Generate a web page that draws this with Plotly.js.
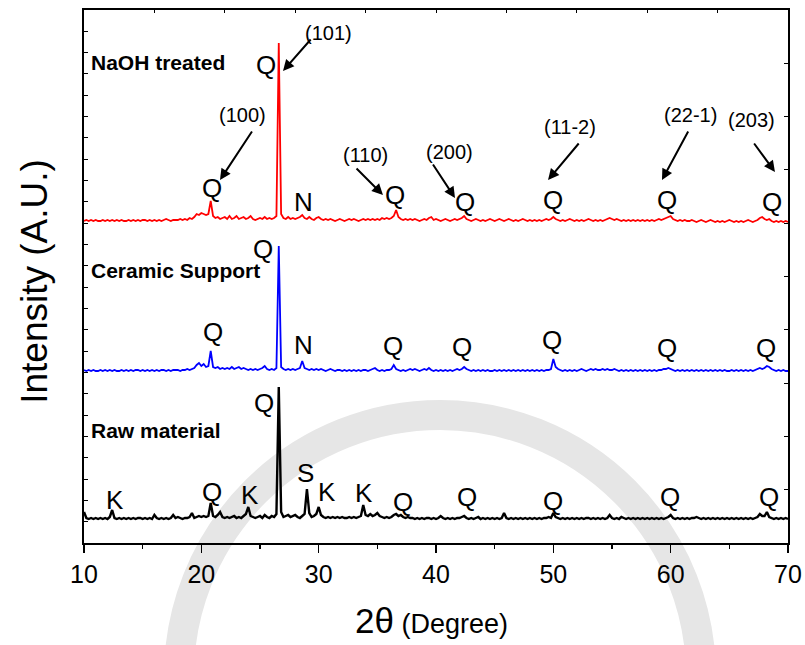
<!DOCTYPE html>
<html>
<head>
<meta charset="utf-8">
<script src="https://cdn.plot.ly/plotly-3.0.1.min.js"></script>
<style>
html,body{margin:0;padding:0;background:#fff;}
#chart{width:805px;height:645px;}
</style>
</head>
<body>
<div id="chart"></div>
<script>
// 2-theta scan: start and step (degrees)
var twoThetaStart = 10;
var twoThetaStep = 0.2;

// Intensities (a.u., above each pattern's own baseline), one value per 0.2 deg from 10 to 70
var rawMaterial = [
  8,2,1,2,1,2,1,2,1,2,
  1,3,10,2,1,2,1,2,1,2,
  1,2,1,2,2,1,2,1,2,1,
  5,2,1,2,1,2,1,2,5,2,
  3,2,1,2,2,3,7,2,3,4,
  3,4,3,4,17,4,3,5,8,3,
  2,3,2,3,4,2,3,2,4,6,
  13,4,3,2,3,4,2,5,3,2,
  4,3,6,133,8,3,4,5,3,4,
  5,3,2,4,6,31,7,3,4,6,
  13,5,3,2,3,2,3,2,3,2,
  3,2,2,3,2,3,2,3,4,15,
  5,4,6,4,5,7,4,3,2,3,
  2,3,5,6,4,5,3,2,3,2,
  2,1,2,1,2,1,2,2,1,2,
  1,2,4,2,1,2,1,2,1,2,
  2,3,4,2,1,2,1,2,3,1,
  2,1,2,1,2,1,2,1,2,7,
  2,1,2,1,2,1,2,1,2,1,
  2,1,2,1,2,1,2,2,3,2,
  7,3,2,1,2,1,2,1,2,1,
  2,1,2,1,2,2,1,2,1,2,
  1,2,1,2,5,2,1,2,1,3,
  2,1,2,1,2,1,2,1,2,1,
  2,1,2,1,2,1,2,1,2,3,
  5,2,1,2,1,2,1,2,1,2,
  2,3,2,1,2,1,2,1,2,1,
  2,1,2,1,2,1,2,1,2,1,
  2,1,2,1,2,1,2,3,6,4,
  4,8,3,2,1,2,1,2,1,2,
  1
];
var ceramicSupport = [
  2,1,2,1,2,1,1,2,1,2,
  1,2,1,2,1,1,2,1,2,1,
  2,1,2,2,1,2,1,2,1,2,
  1,2,1,2,2,1,2,1,2,2,
  2,1,2,2,3,2,3,4,7,9,
  6,8,5,6,21,5,4,5,3,4,
  3,4,3,5,3,4,5,3,4,3,
  2,3,2,3,2,3,4,6,3,2,
  3,2,4,126,5,3,2,3,2,3,
  2,3,4,11,4,3,2,3,2,3,
  2,3,2,1,2,3,2,1,2,2,
  1,2,1,2,1,2,1,2,1,2,
  2,1,2,3,4,2,1,2,1,2,
  2,3,7,3,2,1,2,1,2,3,
  2,3,2,1,2,3,2,4,2,1,
  2,1,2,1,2,1,2,1,2,3,
  2,3,5,3,2,1,2,1,2,1,
  2,1,2,1,1,2,1,2,1,2,
  1,2,1,2,1,2,1,2,1,2,
  1,2,1,2,1,2,1,2,2,3,
  13,5,3,2,1,2,1,2,1,2,
  1,2,3,2,1,2,3,2,3,2,
  2,3,2,3,2,2,3,2,1,2,
  1,2,1,2,1,2,1,2,1,2,
  1,2,1,2,1,2,2,3,3,4,
  3,2,1,2,1,2,1,2,1,2,
  1,2,1,2,1,2,1,2,1,2,
  1,2,1,2,1,1,2,1,2,1,
  2,1,2,1,2,1,2,3,4,3,
  4,6,5,3,2,1,2,1,2,1,
  1
];
var naohTreated = [
  1,2,1,2,1,2,1,1,2,1,
  2,1,2,1,2,1,2,1,1,2,
  1,2,1,2,1,2,2,1,2,1,
  2,1,2,1,2,3,2,1,2,2,
  2,3,2,3,2,4,3,5,8,7,
  9,8,7,8,21,6,4,5,3,4,
  5,3,6,3,4,6,3,4,5,3,
  4,6,3,2,3,4,3,5,3,4,
  3,4,6,179,8,4,3,5,3,4,
  3,4,5,7,4,3,5,3,2,4,
  5,3,2,3,2,3,2,1,2,3,
  2,1,2,3,2,3,2,1,2,3,
  2,3,2,3,2,3,2,4,3,4,
  3,4,6,12,5,3,2,3,2,3,
  2,3,2,1,2,3,2,4,5,2,
  3,2,1,2,3,2,1,2,3,2,
  3,4,6,3,2,1,2,3,2,1,
  2,1,2,3,2,1,2,3,2,1,
  2,3,2,1,2,1,2,3,2,1,
  2,1,2,1,2,1,2,3,2,3,
  5,3,2,1,2,1,2,3,2,1,
  2,1,2,1,2,3,2,1,2,1,
  2,1,2,3,4,3,2,3,2,1,
  2,1,2,1,2,1,2,1,2,1,
  2,1,2,1,2,3,2,3,4,5,
  6,3,2,1,2,1,2,1,1,2,
  1,0,1,2,1,0,1,2,1,0,
  1,0,1,0,1,2,1,0,1,0,
  1,0,1,2,1,0,1,2,4,5,
  3,2,3,1,0,1,0,1,0,1,
  0
];

var seriesNames = ["Raw material", "Ceramic Support", "NaOH treated"];
var seriesColors = ["#000000", "#0000ff", "#ff0000"];
var stackOffsets = [23, 171, 321];
var seriesData = [rawMaterial, ceramicSupport, naohTreated];
var lineWidths = [2.4, 1.8, 1.8];

var traces = seriesData.map(function (vals, k) {
  return {
    type: "scatter", mode: "lines",
    x0: twoThetaStart, dx: twoThetaStep,
    y: vals.map(function (v) { return v + stackOffsets[k]; }),
    name: seriesNames[k],
    line: { color: seriesColors[k], width: lineWidths[k] },
    hoverinfo: "x+name"
  };
});
traces.push({ type: "scatter", mode: "markers", x: [10], y: [0], xaxis: "x2", yaxis: "y2",
  marker: { opacity: 0 }, hoverinfo: "skip", showlegend: false });

// Phase labels: [2theta, y, text]
var phaseLabels = [
  [25.51, 478, "Q"], [20.91, 355, "Q"], [28.67, 341, "N"], [36.51, 348, "Q"], [42.47, 341, "Q"],
  [49.97, 343, "Q"], [59.69, 343, "Q"], [68.64, 341, "Q"],
  [25.26, 294, "Q"], [20.99, 211, "Q"], [28.67, 198, "N"], [36.34, 197, "Q"], [42.22, 196, "Q"],
  [49.89, 203, "Q"], [59.69, 195, "Q"], [68.13, 195, "Q"],
  [25.34, 140, "Q"], [12.64, 43, "K"], [20.91, 51, "Q"], [24.15, 48, "K"], [28.92, 70, "S"],
  [30.71, 51, "K"], [33.86, 50, "K"], [37.19, 41, "Q"], [42.64, 46, "Q"], [49.97, 42, "Q"],
  [59.94, 46, "Q"], [68.38, 46, "Q"]
];
// Miller index labels: [2theta, y, text]
var millerLabels = [
  [30.80, 510, "(101)"], [23.55, 428, "(100)"], [33.95, 388, "(110)"], [41.19, 391, "(200)"],
  [51.42, 416, "(11-2)"], [61.65, 428, "(22-1)"], [66.93, 423, "(203)"]
];
// Arrows: [tail 2theta, tail y, head 2theta, head y]
var millerArrows = [
  [29.43, 505, 26.96, 472], [24.40, 413, 21.59, 363], [33.10, 376, 35.48, 348],
  [39.66, 380, 41.62, 345], [52.27, 401, 49.55, 363], [61.56, 413, 59.26, 363],
  [67.02, 401, 68.89, 371]
];
var seriesLabelY = [113, 273, 481];

var FONT = "Liberation Sans, Arial, Helvetica, sans-serif";
var ann = [];
phaseLabels.forEach(function (p) {
  ann.push({ x: p[0], y: p[1], xref: "x", yref: "y", text: p[2], showarrow: false,
    font: { family: FONT, size: 26, color: "#000" } });
});
millerLabels.forEach(function (p) {
  ann.push({ x: p[0], y: p[1], xref: "x", yref: "y", text: p[2], showarrow: false,
    font: { family: FONT, size: 20, color: "#000" } });
});
millerArrows.forEach(function (a) {
  ann.push({ x: a[2], y: a[3], xref: "x", yref: "y", ax: a[0], ay: a[1], axref: "x", ayref: "y",
    text: "", showarrow: true, arrowhead: 2, arrowsize: 1.1, arrowwidth: 2, arrowcolor: "#000",
    standoff: 0, startstandoff: 0 });
});
seriesNames.forEach(function (n, k) {
  ann.push({ x: 10.43, y: seriesLabelY[k], xref: "x", yref: "y", xanchor: "left", text: "<b>" + n + "</b>",
    showarrow: false, font: { family: FONT, size: 21, color: "#000" } });
});
ann.push({ xref: "paper", yref: "paper", x: -0.0696, y: 0.49, xanchor: "center", yanchor: "middle",
  textangle: -90, text: "Intensity (A.U.)",
  showarrow: false, font: { family: FONT, size: 37, color: "#000" } });
ann.push({ xref: "paper", yref: "paper", x: 0.493, y: -0.145, xanchor: "center", yanchor: "middle",
  text: '<span style="font-size:35px">2θ</span> (Degree)',
  showarrow: false, font: { family: FONT, size: 27, color: "#000" } });

var layout = {
  width: 805, height: 645,
  margin: { l: 84, r: 17, t: 10, b: 102 },
  paper_bgcolor: "#ffffff", plot_bgcolor: "rgba(0,0,0,0)",
  showlegend: false,
  font: { family: FONT, color: "#000" },
  shapes: [
    { type: "circle", xref: "paper", yref: "paper", layer: "below",
      x0: 0.1349, x1: 0.8764, y0: -0.7392, y1: 0.2402,
      line: { color: "#e6e6e6", width: 30 } }
  ],
  xaxis: {
    range: [10, 70], tick0: 10, dtick: 10, ticks: "outside", ticklen: 8, tickwidth: 1.5,
    tickcolor: "#000", showline: true, linecolor: "#000", linewidth: 1.6, showgrid: false,
    zeroline: false, tickfont: { family: FONT, size: 25, color: "#000" },
    minor: { dtick: 5, tick0: 10, ticks: "outside", ticklen: 4, tickwidth: 1.5, tickcolor: "#000", showgrid: false }
  },
  xaxis2: {
    overlaying: "x", side: "top", anchor: "y", range: [10, 70], tick0: 10, dtick: 6,
    ticks: "inside", ticklen: 3, tickwidth: 1, tickcolor: "#000", showticklabels: false,
    showline: true, linecolor: "#000", linewidth: 1.6, showgrid: false, zeroline: false
  },
  yaxis: {
    range: [0, 533], tick0: 0, dtick: 21.32, ticks: "inside", ticklen: 4, tickwidth: 1,
    tickcolor: "#000", showticklabels: false, showline: true, linecolor: "#000", linewidth: 1.6,
    showgrid: false, zeroline: false
  },
  yaxis2: {
    overlaying: "y", side: "right", anchor: "x", range: [0, 533], tick0: 0, dtick: 53.3,
    ticks: "inside", ticklen: 4, tickwidth: 1, tickcolor: "#000", showticklabels: false,
    showline: true, linecolor: "#000", linewidth: 1.6, showgrid: false, zeroline: false
  },
  annotations: ann
};

Plotly.newPlot("chart", traces, layout, { displayModeBar: false, staticPlot: true });
</script>
</body>
</html>
